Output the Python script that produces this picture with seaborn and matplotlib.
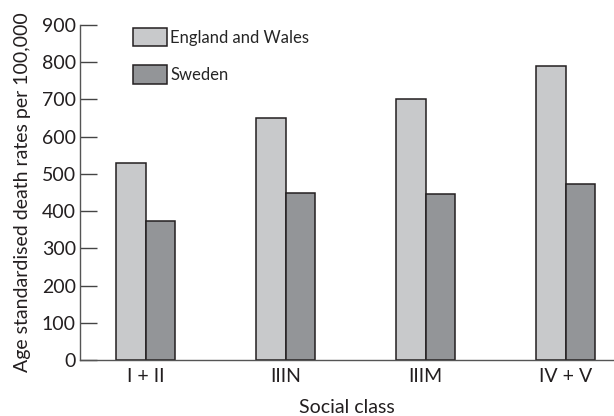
import matplotlib
matplotlib.use("Agg")
import matplotlib.pyplot as plt
import seaborn as sns
import pandas as pd

# Age standardised death rates per 100,000 by social class
classes = ["I + II", "IIIN", "IIIM", "IV + V"]
england_wales = [530, 649, 700, 790]
sweden = [373, 448, 446, 473]
countries = ["England and Wales", "Sweden"]
y_ticks = [0, 100, 200, 300, 400, 500, 600, 700, 800, 900]

df = pd.DataFrame({
    "Social class": classes * 2,
    "rate": england_wales + sweden,
    "country": [countries[0]] * len(classes) + [countries[1]] * len(classes),
})

sns.set_theme(style="white")
plt.rcParams["font.family"] = ["Lato", "DejaVu Sans"]

fig = plt.figure(figsize=(6.14, 4.16), dpi=100)
ax = fig.add_axes([80 / 614, 1 - 360 / 416, 1 - 80 / 614, 335 / 416])

edge = "#231f20"
sns.barplot(
    data=df, x="Social class", y="rate", hue="country",
    hue_order=countries, order=classes,
    palette=["#c8c9cb", "#939598"], width=0.42,
    edgecolor=edge, linewidth=1.1, saturation=1, ax=ax,
)

ax.set_xlim(-0.469, 3.345)
ax.set_ylim(0, 900)
ax.set_yticks(y_ticks)
ax.tick_params(axis="y", direction="in", length=12, width=1.0,
               color="#444444", labelsize=14, pad=3, left=True)
ax.tick_params(axis="x", length=0, labelsize=14, pad=6)
for lab in ax.get_xticklabels() + ax.get_yticklabels():
    lab.set_color("#231f20")

for side in ["top", "right"]:
    ax.spines[side].set_visible(False)
for side in ["left", "bottom"]:
    ax.spines[side].set_color("#555555")
    ax.spines[side].set_linewidth(1.0)

ax.set_ylabel("Age standardised death rates per 100,000", fontsize=14,
              color="#231f20", labelpad=8)
ax.set_xlabel("Social class", fontsize=14, color="#231f20", labelpad=10)

ax.legend(
    loc="upper left", bbox_to_anchor=(133 / 614, 1 - 28 / 416),
    bbox_transform=fig.transFigure, frameon=False, fontsize=12,
    handlelength=2.05, handleheight=1.3, handletextpad=0.2,
    labelspacing=1.15, borderpad=0, borderaxespad=0, title=None,
)

fig.savefig("out.png", dpi=100)
